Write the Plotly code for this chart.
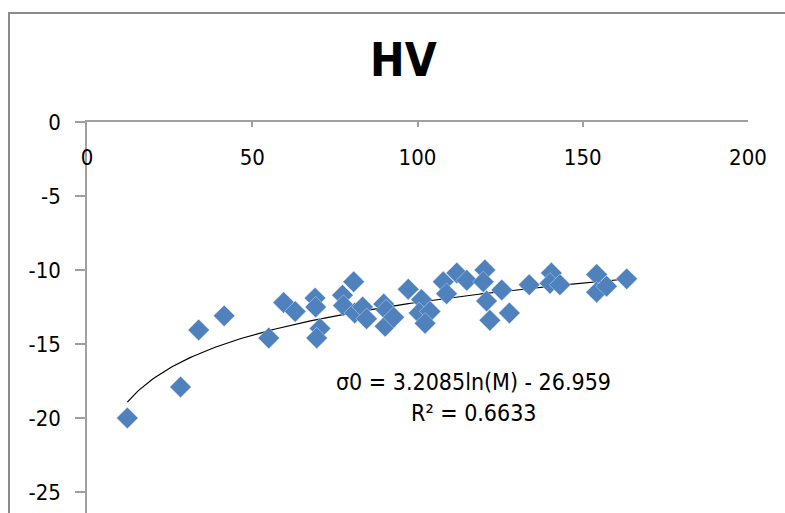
import numpy as np
import plotly.graph_objects as go

# Data (M, sigma0)
M_values = [12.2, 28.3, 33.8, 41.5, 55.0, 59.5, 63.0, 69.0, 69.2, 70.5, 69.5,
            77.3, 77.6, 80.7, 81.0, 83.4, 84.6, 89.8, 90.5, 90.2, 92.8, 97.2,
            101.2, 100.5, 103.8, 102.3, 107.8, 108.8, 111.9, 114.9, 120.4,
            119.9, 125.5, 120.9, 121.9, 127.8, 133.8, 140.5, 140.1, 143.1,
            154.2, 154.2, 157.2, 163.3]
sigma_values = [-20.0, -17.9, -14.05, -13.1, -14.6, -12.2, -12.8, -11.9, -12.5, -13.95, -14.6,
                -11.7, -12.4, -10.8, -12.9, -12.5, -13.3, -12.3, -12.7, -13.8, -13.2, -11.3,
                -12.0, -12.9, -12.8, -13.6, -10.8, -11.6, -10.2, -10.7, -10.0,
                -10.8, -11.35, -12.1, -13.4, -12.9, -11.0, -10.2, -10.9, -11.0,
                -10.3, -11.5, -11.1, -10.6]

# Trendline coefficients shown on the chart
trend_a = 3.2085
trend_b = -26.959
eq_text = "σ0 = 3.2085ln(M) - 26.959"
r2_text = "R² = 0.6633"
title_text = "HV"

x_ticks = [0, 50, 100, 150, 200]
x_tick_labels = ["0", "50", "100", "150", "200"]
y_ticks = [0, -5, -10, -15, -20, -25]
y_tick_labels = ["0", "-5", "-10", "-15", "-20", "-25"]

FONT = "DejaVu Sans Condensed, Liberation Sans Narrow, Arial Narrow, sans-serif"

W, H = 785, 513
L, R, T, B = 87, 37, 122, 0
pw, ph = W - L - R, H - T - B

def px_to_paper_x(px):
    return (px - L) / pw

def px_to_paper_y(py):
    return (H - B - py) / ph

m_line = np.linspace(min(M_values), max(M_values), 200)
s_line = trend_a * np.log(m_line) + trend_b

fig = go.Figure()
fig.add_trace(go.Scatter(
    x=m_line, y=s_line, mode="lines",
    line=dict(color="black", width=1.2),
    hoverinfo="skip", showlegend=False, cliponaxis=False))
fig.add_trace(go.Scatter(
    x=M_values, y=sigma_values, mode="markers",
    marker=dict(symbol="diamond", size=16.5, color="#4F81BD",
                line=dict(width=0.6, color="rgba(230,238,248,0.7)")),
    showlegend=False))

fig.update_layout(
    width=W, height=H,
    margin=dict(l=L, r=R, t=T, b=B, autoexpand=False),
    paper_bgcolor="white", plot_bgcolor="white",
    font=dict(family=FONT, size=22, color="black"),
    xaxis=dict(range=[0, 200], side="top", tickvals=x_ticks, ticktext=x_tick_labels,
               showline=True, linecolor="#A0A0A0", linewidth=1.5,
               ticks="inside", ticklen=5, tickcolor="#A0A0A0", tickwidth=1.5,
               ticklabelposition="inside", ticklabelstandoff=24,
               ticklabeloverflow="allow", automargin=False,
               showgrid=False, zeroline=False,
               tickfont=dict(family=FONT, size=22, color="black")),
    yaxis=dict(range=[-26.42, 0], tickvals=y_ticks, ticktext=y_tick_labels,
               showline=True, linecolor="#A0A0A0", linewidth=1.5,
               ticks="outside", ticklen=10, tickcolor="#A0A0A0", tickwidth=1.5,
               ticklabelstandoff=10, ticklabeloverflow="allow", automargin=False,
               showgrid=False, zeroline=False,
               tickfont=dict(family=FONT, size=22, color="black")),
    shapes=[dict(type="rect", xref="paper", yref="paper",
                 x0=px_to_paper_x(9), x1=px_to_paper_x(W + 20),
                 y0=px_to_paper_y(H + 20), y1=px_to_paper_y(13),
                 line=dict(color="#8C8C8C", width=2), fillcolor="rgba(0,0,0,0)",
                 layer="below")],
    annotations=[
        dict(text="<b>" + title_text + "</b>", xref="paper", yref="paper",
             x=px_to_paper_x(403), y=px_to_paper_y(60), showarrow=False,
             xanchor="center", yanchor="middle",
             font=dict(family=FONT, size=46, color="black")),
        dict(text=eq_text, xref="paper", yref="paper",
             x=px_to_paper_x(474), y=px_to_paper_y(382), showarrow=False,
             xanchor="center", yanchor="middle",
             font=dict(family=FONT, size=23, color="black")),
        dict(text=r2_text, xref="paper", yref="paper",
             x=px_to_paper_x(474), y=px_to_paper_y(413), showarrow=False,
             xanchor="center", yanchor="middle",
             font=dict(family=FONT, size=23, color="black")),
    ],
)

fig.write_html("out.html",
               config={"displayModeBar": False},
               post_script="document.body.style.margin='0';document.body.style.overflow='hidden';")
